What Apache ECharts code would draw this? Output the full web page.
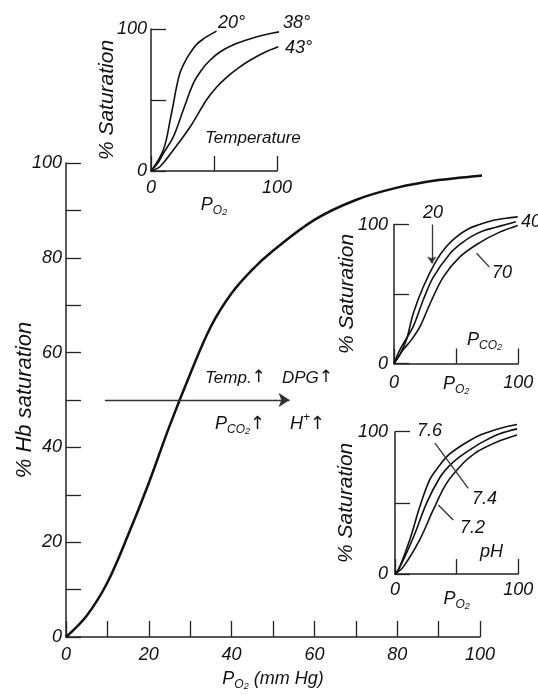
<!DOCTYPE html>
<html>
<head>
<meta charset="utf-8">
<script src="https://cdn.jsdelivr.net/npm/echarts@6/dist/echarts.min.js"></script>
<style>html,body{margin:0;padding:0;background:#fff}#c{width:538px;height:695px}</style>
</head>
<body>
<div id="c"></div>
<script>
// ---- Data ----
const mainCurve = [[0,0],[5,4.5],[10,11.5],[15,21.5],[20,32.5],[25,44.5],[30,55.5],[35,65.5],[40,72.5],[45,77.5],[50,81.5],[60,88],[70,92.2],[80,94.8],[90,96.4],[100,97.3],[103,97.5]];
const mainXTicks = [0,20,40,60,80,100];
const mainYTicks = [0,20,40,60,80,100];

const temp20 = [[0,0],[6,8],[9.8,15],[12.4,23],[15,35],[17.7,47],[20,58],[23,69],[27,77],[31,83],[36,89],[41.5,93],[47,96],[52,98.5]];
const temp38 = [[0,0],[5,5],[9.8,12.5],[17.7,24],[25.6,43],[33.6,61.7],[40,71],[46.8,78],[55,84],[65,88.7],[75,92],[84,94.6],[93,96.5],[102,98]];
const temp43 = [[0,0],[7,3],[17.7,14.8],[31,31],[44,50],[52,59],[60,66],[70,73],[78.6,78],[90,83.5],[101,87.5]];

const pco2_20 = [[0,0],[5,7],[10,17],[15.5,36],[23.5,55],[34,74],[42,84],[50,91],[60,97],[69,100],[80,103],[90,104.5],[99.5,105.5]];
const pco2_40 = [[0,0],[4.8,10],[15.5,26.7],[23.5,45.7],[31.5,62],[45,79],[55,87],[63.5,92],[72,95.5],[82,98],[90,100],[98,102]];
const pco2_70 = [[0,0],[7.5,10],[14,17],[21,26.7],[29,43],[39.5,62],[53,76.7],[69,87],[85,94.5],[99.5,99.3]];

const ph76 = [[0,0],[2.7,2.8],[12,24],[20,47],[28,66],[35,75],[42,82.5],[50,88],[61,94],[70,98],[80,101],[90,103.5],[99,105]];
const ph74 = [[0,0],[4,5],[15,26],[25.7,50],[36.5,68],[44,76],[52.7,82.5],[62,88],[71.6,93],[85,98.5],[99,102]];
const ph72 = [[0,0],[6.7,5],[20,24],[31,45],[42,64],[55.4,78],[65,85],[74.4,89.5],[86,94],[99,97.7]];

const insetLabels = [0,100];

// annotation lines (data coords)
const shiftArrow = [[9.4,50],[54,50]];
const pco2Arrow = [[30.4,100],[30.4,72]];
const pco2Leader = [[66.4,79.3],[76.8,69.3]];
const phLeader74 = [[32.4,92],[59.4,60.2]];
const phLeader72 = [[35.1,48.5],[47.3,38]];

// ---- Styles ----
const FONT = 'Liberation Sans';
const txt = {fontFamily: FONT, fontStyle: 'italic', color: '#111'};
function subRich(big) {
  return {
    p: Object.assign({}, txt, {fontSize: big, lineHeight: big + 6}),
    s: Object.assign({}, txt, {fontSize: 12, verticalAlign: 'bottom'}),
    q: Object.assign({}, txt, {fontSize: 9, verticalAlign: 'bottom'}),
    u: Object.assign({}, txt, {fontSize: 12, verticalAlign: 'top'}),
    a: {fontFamily: 'DejaVu Sans', fontSize: big, color: '#111', lineHeight: big + 6}
  };
}
const axisLine = {show: true, lineStyle: {color: '#222', width: 1.5}};

function xAx(gi, opts) {
  return Object.assign({
    gridIndex: gi, type: 'value', min: 0, max: 100,
    axisLine: axisLine, nameMoveOverlap: false,
    axisTick: {inside: true, length: 15, lineStyle: {color: '#222', width: 1.3}},
    splitLine: {show: false},
    axisLabel: Object.assign({}, txt, {fontSize: 18, margin: 8})
  }, opts);
}
function yAx(gi, opts) {
  return Object.assign({
    gridIndex: gi, type: 'value', min: 0, max: 100,
    axisLine: axisLine, nameMoveOverlap: false,
    axisTick: {inside: true, length: 15, lineStyle: {color: '#222', width: 1.3}},
    splitLine: {show: false},
    axisLabel: Object.assign({}, txt, {fontSize: 18, margin: 5})
  }, opts);
}
const onlyIn = (arr) => (v) => arr.indexOf(v) >= 0 ? String(v) : '';
const po2Name = '{p|P}{s|O}{q|2}';

function curve(gi, data, w) {
  return {type: 'line', xAxisIndex: gi, yAxisIndex: gi, data: data, smooth: 0.35,
    showSymbol: false, symbol: 'none', clip: false, lineStyle: {color: '#111', width: w}, silent: true};
}
function mline(pair, arrow, size) {
  return {silent: true, symbol: arrow ? ['none', 'arrow'] : ['none', 'none'], symbolSize: size || 8,
    label: {show: false}, lineStyle: {type: 'solid', color: '#333', width: 1.3},
    data: [[{coord: pair[0]}, {coord: pair[1]}]]};
}

const option = {
  animation: false,
  backgroundColor: '#fff',
  grid: [
    {left: 66, top: 163, width: 414, height: 474, outerBoundsMode: 'none', containLabel: false},
    {left: 151, top: 29, width: 126, height: 142, outerBoundsMode: 'none', containLabel: false},
    {left: 394, top: 224.5, width: 124.3, height: 139, outerBoundsMode: 'none', containLabel: false},
    {left: 395, top: 431.7, width: 123.3, height: 142.3, outerBoundsMode: 'none', containLabel: false}
  ],
  xAxis: [
    xAx(0, {interval: 10, axisTick: {inside: true, length: 16, lineStyle: {color: '#222', width: 1.3}},
      axisLabel: Object.assign({}, txt, {fontSize: 18, margin: 9, formatter: onlyIn(mainXTicks)}),
      name: '{p|P}{s|O}{q|2}{p| (mm Hg)}', nameLocation: 'middle', nameGap: 30,
      nameTextStyle: {rich: subRich(18)}}),
    xAx(1, {interval: 50, axisLabel: Object.assign({}, txt, {fontSize: 18, margin: 8, formatter: onlyIn(insetLabels)}),
      name: po2Name, nameLocation: 'middle', nameGap: 22, nameTextStyle: {rich: subRich(18)}}),
    xAx(2, {interval: 50, axisLabel: Object.assign({}, txt, {fontSize: 18, margin: 10, formatter: onlyIn(insetLabels)}),
      name: po2Name, nameLocation: 'middle', nameGap: 8, nameTextStyle: {rich: subRich(18)}}),
    xAx(3, {interval: 50, axisLabel: Object.assign({}, txt, {fontSize: 18, margin: 7, formatter: onlyIn(insetLabels)}),
      name: po2Name, nameLocation: 'middle', nameGap: 13, nameTextStyle: {rich: subRich(18)}})
  ],
  yAxis: [
    yAx(0, {interval: 10, axisLabel: Object.assign({}, txt, {fontSize: 18, margin: 4, formatter: onlyIn(mainYTicks)}),
      name: '% Hb saturation', nameLocation: 'middle', nameRotate: 90, nameGap: 30,
      nameTextStyle: Object.assign({}, txt, {fontSize: 22})}),
    yAx(1, {interval: 50, axisLabel: Object.assign({}, txt, {fontSize: 18, margin: 4, formatter: onlyIn(insetLabels)}),
      name: '% Saturation', nameLocation: 'middle', nameRotate: 90, nameGap: 33,
      nameTextStyle: Object.assign({}, txt, {fontSize: 21})}),
    yAx(2, {interval: 50, axisLabel: Object.assign({}, txt, {fontSize: 18, margin: 6, formatter: onlyIn(insetLabels)}),
      name: '% Saturation', nameLocation: 'middle', nameRotate: 90, nameGap: 36,
      nameTextStyle: Object.assign({}, txt, {fontSize: 21})}),
    yAx(3, {interval: 50, axisLabel: Object.assign({}, txt, {fontSize: 18, margin: 7, formatter: onlyIn(insetLabels)}),
      name: '% Saturation', nameLocation: 'middle', nameRotate: 90, nameGap: 38,
      nameTextStyle: Object.assign({}, txt, {fontSize: 21})})
  ],
  series: [
    Object.assign(curve(0, mainCurve, 2.5), {markLine: mline(shiftArrow, true, 11)}),
    curve(1, temp20, 1.6), curve(1, temp38, 1.6), curve(1, temp43, 1.6),
    Object.assign(curve(2, pco2_20, 1.6), {markLine: mline(pco2Arrow, true, 7)}),
    curve(2, pco2_40, 1.6),
    Object.assign(curve(2, pco2_70, 1.6), {markLine: mline(pco2Leader, false)}),
    curve(3, ph76, 1.6),
    Object.assign(curve(3, ph74, 1.6), {markLine: mline(phLeader74, false)}),
    Object.assign(curve(3, ph72, 1.6), {markLine: mline(phLeader72, false)})
  ],
  graphic: []
};

function label(text, x, y, size, richDef) {
  const style = {text: text, x: x, y: y, align: 'left', verticalAlign: 'middle',
    fill: '#111', font: 'italic ' + size + 'px "' + FONT + '"'};
  if (richDef) style.rich = richDef;
  return {type: 'text', silent: true, style: style};
}
const r18 = subRich(18);
option.graphic = [
  label('Temperature', 205, 138, 17),
  label('20°', 218, 23, 18), label('38°', 283, 23, 18), label('43°', 285, 48, 18),
  label('20', 423, 213, 18), label('40', 521, 222, 18), label('70', 492, 273, 18),
  label('{p|P}{s|CO}{q|2}', 467, 340, 18, r18),
  label('7.6', 417, 431, 18), label('7.4', 472, 499, 18), label('7.2', 460, 528, 18), label('pH', 480, 552, 18),
  label('{p|Temp.}{a|↑}', 205, 378, 17, subRich(17)), label('{p|DPG}{a|↑}', 282, 378, 17, subRich(17)),
  label('{p|P}{s|CO}{q|2}{a|↑}', 215, 424, 18, r18),
  label('{p|H}{u|+}{a|↑}', 290, 424, 18, r18)
];

const chart = echarts.init(document.getElementById('c'), null, {renderer: 'canvas'});
chart.setOption(option);
</script>
</body>
</html>
